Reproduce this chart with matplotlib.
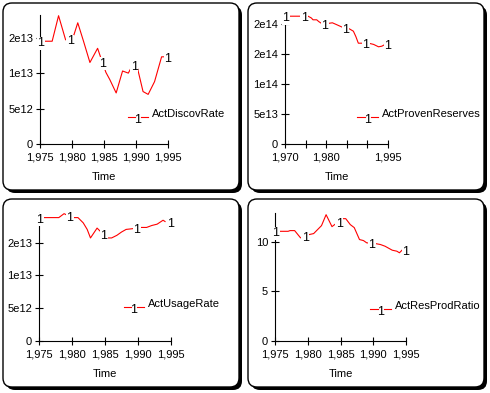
import numpy as np
import matplotlib
matplotlib.use('Agg')
import matplotlib.pyplot as plt
from matplotlib.patches import FancyBboxPatch
from matplotlib.lines import Line2D
from matplotlib.transforms import IdentityTransform

plt.rcParams['font.family'] = ['Liberation Sans', 'DejaVu Sans']

W, H = 490, 393

# ActDiscovRate
yrs1 = [1975, 1976.9, 1977.9, 1979.0, 1979.5, 1980.3, 1980.9, 1981.8, 1982.8, 1984.0, 1984.6,
        1985.3, 1985.9, 1986.9, 1987.9, 1988.8, 1989.5, 1990.1, 1991.1, 1991.9, 1992.9, 1994.0, 1994.6]
vals1 = [14.5, 14.5, 18.1, 14.7, 14.7, 15.4, 17.1, 14.5, 11.5, 13.5, 11.9,
         10.1, 9.1, 7.2, 10.3, 10.0, 11.2, 11.2, 7.4, 7.0, 8.8, 12.3, 12.3]
vals1 = [v * 1e12 for v in vals1]
marks1 = [1975, 1979.6, 1984.7, 1989.6, 1994.8]

# ActProvenReserves
yrs2 = [1970, 1973.6, 1975.6, 1976.4, 1976.8, 1977.7, 1978.2, 1979.3, 1980.5, 1981.5, 1982.5,
        1983.8, 1985.6, 1986.6, 1987.2, 1987.8, 1989.0, 1990.3, 1991.5, 1992.7, 1993.5, 1994.3]
vals2 = [21.3, 21.3, 21.3, 21.0, 20.7, 20.7, 20.4, 19.9, 20.1, 20.2, 19.9,
         19.5, 19.2, 18.8, 17.9, 16.8, 16.8, 16.8, 16.6, 16.2, 16.3, 16.6]
vals2 = [v * 1e13 for v in vals2]
marks2 = [1970, 1974.5, 1979.5, 1984.5, 1989.5, 1994.7]

# ActUsageRate
yrs3 = [1975, 1978.0, 1978.8, 1979.2, 1980.3, 1980.9, 1981.7, 1982.3, 1982.8, 1983.8, 1984.3,
        1985.4, 1986.0, 1986.8, 1987.5, 1988.2, 1989.1, 1990.3, 1991.3, 1992.1, 1992.9, 1993.8, 1994.1]
vals3 = [18.8, 18.8, 19.4, 19.2, 18.8, 18.8, 18.0, 17.0, 15.7, 17.2, 16.7,
         15.7, 15.7, 16.1, 16.6, 17.0, 17.1, 17.3, 17.3, 17.6, 17.8, 18.4, 18.2]
vals3 = [v * 1e12 for v in vals3]
marks3 = [1975, 1979.6, 1984.7, 1989.7, 1994.8]

# ActResProdRatio
yrs4 = [1975, 1977, 1977.3, 1978, 1978.9, 1980.2, 1980.9, 1982.1, 1982.8, 1983.7, 1984.5, 1985.3,
        1985.8, 1986.5, 1987.1, 1987.9, 1988.5, 1989, 1990.3, 1991.1, 1991.8, 1992.9, 1993.6, 1994, 1994.5]
vals4 = [11.03, 11.03, 11.1, 11.1, 10.37, 10.7, 10.8, 11.6, 12.7, 11.5, 11.9, 12.3,
         12.3, 11.7, 11.4, 10.2, 10.1, 9.87, 9.8, 9.7, 9.53, 9.13, 9.03, 8.87, 9.2]
marks4 = [1975, 1979.5, 1984.7, 1989.7, 1994.8]

panels = [
    dict(name='ActDiscovRate', x=yrs1, y=vals1, marks=marks1,
         frame=(3, 3, 239, 190), ax=(40, 168, 144, 15), xlim=(1975, 1995), ytop=1.82e13,
         xt=[1975, 1980, 1985, 1990, 1995], xl=['1,975', '1,980', '1,985', '1,990', '1,995'],
         yt=[0, 5e12, 1e13, 1.5e13], yl=['0', '5e12', '1e13', '2e13'],
         leg=(128, 148, 117)),
    dict(name='ActProvenReserves', x=yrs2, y=vals2, marks=marks2,
         frame=(248, 3, 484, 190), ax=(285, 388, 144, 15), xlim=(1970, 1995), ytop=2.15e14,
         xt=[1970, 1975, 1980, 1985, 1990, 1995], xl=['1,970', '', '1,980', '', '', '1,995'],
         yt=[0, 5e13, 1e14, 1.5e14, 2e14], yl=['0', '5e13', '1e14', '2e14', '2e14'],
         leg=(357, 378, 117)),
    dict(name='ActUsageRate', x=yrs3, y=vals3, marks=marks3,
         frame=(3, 199, 239, 387), ax=(39, 171, 341, 213), xlim=(1975, 1995), ytop=1.95e13,
         xt=[1975, 1980, 1985, 1990, 1995], xl=['1,975', '1,980', '1,985', '1,990', '1,995'],
         yt=[0, 5e12, 1e13, 1.5e13], yl=['0', '5e12', '1e13', '2e13'],
         leg=(124, 144, 307)),
    dict(name='ActResProdRatio', x=yrs4, y=vals4, marks=marks4,
         frame=(248, 199, 484, 387), ax=(275, 406, 341, 213), xlim=(1975, 1995), ytop=12.87,
         xt=[1975, 1980, 1985, 1990, 1995], xl=['1,975', '1,980', '1,985', '1,990', '1,995'],
         yt=[0, 5, 10], yl=['0', '5', '10'],
         leg=(370, 391, 309)),
]

fig = plt.figure(figsize=(W / 100, H / 100), dpi=100)
FS = 7.5


def fx(x):
    return x / W


def fy(y):
    return 1 - y / H


for p in panels:
    x0, y0, x1, y1 = p['frame']
    # shadow then frame, in pixels
    sh = FancyBboxPatch((x0 + 3, H - y1 - 3), x1 - x0, y1 - y0,
                        boxstyle='round,pad=0,rounding_size=9',
                        transform=IdentityTransform(), fc='black', ec='black', lw=0, zorder=0)
    fr = FancyBboxPatch((x0, H - y1), x1 - x0, y1 - y0,
                        boxstyle='round,pad=0,rounding_size=9',
                        transform=IdentityTransform(), fc='white', ec='black', lw=1.0, zorder=1)
    fig.add_artist(sh)
    fig.add_artist(fr)

    l, r, b, t = p['ax']
    ax = fig.add_axes([fx(l), fy(b), fx(r) - fx(l), fy(t) - fy(b)])
    ax.set_facecolor('none')
    ax.set_zorder(3)
    for s in ['top', 'right']:
        ax.spines[s].set_visible(False)
    for s in ['left', 'bottom']:
        ax.spines[s].set_linewidth(0.8)
    ax.plot(p['x'], p['y'], color='red', lw=0.8, clip_on=False)
    for m in p['marks']:
        v = np.interp(m, p['x'], p['y'])
        ax.annotate('1', (m, v), xytext=(0.5, -1.5), textcoords='offset points',
                    fontsize=FS + 1.5, ha='center', va='center', zorder=5,
                    bbox=dict(fc='white', ec='none', pad=0.3), annotation_clip=False)
    ax.set_xlim(*p['xlim'])
    ax.set_ylim(0, p['ytop'])
    ax.set_xticks(p['xt'])
    ax.set_xticklabels(p['xl'])
    ax.set_yticks(p['yt'])
    ax.set_yticklabels(p['yl'])
    ax.tick_params(direction='inout', length=6, width=0.8, labelsize=FS + 0.5)
    ax.tick_params(axis='x', pad=3)
    ax.tick_params(axis='y', pad=2)
    ax.set_xlabel('Time', fontsize=FS + 0.5, labelpad=7)

    lx0, lx1, ly = p['leg']
    mid = (lx0 + lx1) / 2
    fig.add_artist(Line2D([fx(lx0), fx(mid - 3)], [fy(ly), fy(ly)], color='red', lw=0.8, zorder=4))
    fig.add_artist(Line2D([fx(mid + 3), fx(lx1)], [fy(ly), fy(ly)], color='red', lw=0.8, zorder=4))
    fig.text(fx(mid), fy(ly + 3), '1', fontsize=FS + 1.5, ha='center', va='center', zorder=4)
    fig.text(fx(lx1 + 4), fy(ly - 3), p['name'], fontsize=FS + 0.5, ha='left', va='center', zorder=4)

fig.savefig('out.png', dpi=100)
